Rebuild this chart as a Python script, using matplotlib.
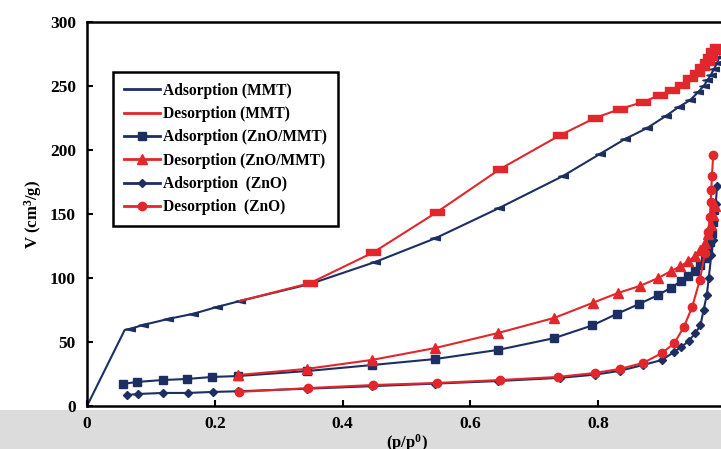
import matplotlib
matplotlib.use("Agg")
import matplotlib.pyplot as plt
from matplotlib.lines import Line2D
from matplotlib.patches import Rectangle

# ---------------- data ----------------
mmt_ads_x = [0, 0.059, 0.067, 0.088, 0.127, 0.166, 0.203, 0.239, 0.349, 0.451, 0.545,
             0.645, 0.745, 0.803, 0.842, 0.876, 0.906, 0.926, 0.944, 0.956, 0.965,
             0.971, 0.976, 0.981, 0.986, 0.990]
mmt_ads_y = [0, 59.4, 60.2, 63.3, 68, 72, 77.3, 82, 95.3, 112.5, 131,
             154.7, 179.7, 197, 208.6, 217, 226.6, 233.6, 239, 245, 250,
             254.5, 258.5, 263, 268, 273]

mmt_des_x = [0.239, 0.349, 0.448, 0.548, 0.646, 0.740, 0.795, 0.834, 0.870, 0.897,
             0.915, 0.931, 0.944, 0.955, 0.963, 0.970, 0.975, 0.980, 0.986]
mmt_des_y = [82, 96, 120, 151.6, 185, 211.5, 225, 232, 237.5, 243,
             247, 251, 256, 260.5, 265, 269, 273, 277, 280.5]

znomm_ads_x = [0.056, 0.078, 0.119, 0.156, 0.196, 0.236, 0.344, 0.446, 0.545, 0.643,
               0.731, 0.791, 0.829, 0.864, 0.894, 0.914, 0.930, 0.941, 0.952, 0.960,
               0.967, 0.972, 0.975, 0.978, 0.980, 0.982]
znomm_ads_y = [17.2, 18.8, 20.3, 21.1, 22.7, 23.4, 27.3, 32, 36.7, 43.8,
               53, 63, 71.9, 79.7, 86.7, 92.5, 97.5, 101.5, 105.5, 110,
               116, 122, 128, 135, 144, 153]

znomm_des_x = [0.236, 0.344, 0.446, 0.545, 0.643, 0.731, 0.792, 0.831, 0.865, 0.894,
               0.914, 0.928, 0.941, 0.951, 0.959, 0.967, 0.972, 0.977, 0.980, 0.983]
znomm_des_y = [24.2, 29, 36, 45.3, 57, 68.8, 80.7, 88.3, 93.8, 100,
               105.5, 109, 113, 117, 122, 127.5, 134, 141.5, 149, 156]

zno_ads_x = [0.063, 0.080, 0.119, 0.158, 0.197, 0.236, 0.344, 0.446, 0.545, 0.643,
             0.740, 0.795, 0.834, 0.870, 0.900, 0.918, 0.930, 0.942, 0.952, 0.960,
             0.965, 0.970, 0.973, 0.977, 0.980, 0.982, 0.984, 0.986]
zno_ads_y = [8.6, 9.4, 10.2, 10.2, 11, 11.5, 13.5, 15.5, 17.5, 19.5,
             22, 24.5, 27.5, 32, 36, 42, 46, 51, 57, 63,
             75, 87, 100, 118, 130, 145, 158, 172]

zno_des_x = [0.238, 0.346, 0.448, 0.548, 0.646, 0.737, 0.795, 0.834, 0.870, 0.900,
             0.919, 0.934, 0.947, 0.959, 0.967, 0.972, 0.975, 0.976, 0.977, 0.978, 0.980]
zno_des_y = [11, 14, 16.4, 18, 20.3, 22.7, 25.8, 29, 33.6, 41.4,
             49, 61.7, 77.3, 98.4, 119.5, 136, 148, 159, 169, 180, 196]

x_ticks = [0, 0.2, 0.4, 0.6, 0.8, 1.0]
x_ticklabels = ["0", "0.2", "0.4", "0.6", "0.8", "1"]
y_ticks = [0, 50, 100, 150, 200, 250, 300]
y_ticklabels = ["0", "50", "100", "150", "200", "250", "300"]

legend_labels = ["Adsorption (MMT)", "Desorption (MMT)", "Adsorption (ZnO/MMT)",
                 "Desorption (ZnO/MMT)", "Adsorption  (ZnO)", "Desorption  (ZnO)"]

# ---------------- styling ----------------
plt.rcParams["font.family"] = ["Liberation Serif", "DejaVu Serif"]
plt.rcParams["font.weight"] = "bold"
plt.rcParams["mathtext.fontset"] = "custom"
plt.rcParams["mathtext.rm"] = "Liberation Serif:bold"
plt.rcParams["mathtext.bf"] = "Liberation Serif:bold"
plt.rcParams["mathtext.it"] = "Liberation Serif:bold"

NAVY = "#1d2f62"
RED = "#e2272c"

rect_marker = [(-1.5, -0.55), (1.5, -0.55), (1.5, 0.55), (-1.5, 0.55), (-1.5, -0.55)]
flag_marker = [(-1.0, 0.0), (1.0, -0.45), (1.0, 0.45), (-1.0, 0.0)]

fig = plt.figure(figsize=(7.21, 4.49), dpi=100)
fig.patches.append(Rectangle((0, 0), 1, 39 / 449, transform=fig.transFigure,
                             facecolor="#dcdcdc", edgecolor="none", zorder=-5))
ax = fig.add_axes([87 / 721, 43 / 449, 639 / 721, 384 / 449])
ax.set_facecolor("white")

lw = 1.5
ax.plot(mmt_ads_x, mmt_ads_y, color=NAVY, lw=lw, marker=flag_marker, ms=7,
        markevery=list(range(2, len(mmt_ads_x))))
ax.plot(znomm_ads_x, znomm_ads_y, color=NAVY, lw=lw, marker="s", ms=6)
ax.plot(zno_ads_x, zno_ads_y, color=NAVY, lw=lw, marker="D", ms=4)
ax.plot(mmt_des_x, mmt_des_y, color=RED, lw=lw, marker=rect_marker, ms=10,
        markevery=list(range(1, len(mmt_des_x))))
ax.plot(znomm_des_x, znomm_des_y, color=RED, lw=lw, marker="^", ms=7)
ax.plot(zno_des_x, zno_des_y, color=RED, lw=lw, marker="o", ms=6)

ax.set_xlim(0, 1.0)
ax.set_ylim(0, 300)
ax.set_xticks(x_ticks)
ax.set_xticklabels(x_ticklabels)
ax.set_yticks(y_ticks)
ax.set_yticklabels(y_ticklabels)
ax.tick_params(direction="in", length=4, width=1.5, labelsize=12.5)
ax.tick_params(axis="y", pad=8)
ax.tick_params(axis="x", pad=7)
for lab in ax.get_xticklabels() + ax.get_yticklabels():
    lab.set_fontweight("bold")
for s in ["left", "top", "bottom", "right"]:
    ax.spines[s].set_linewidth(1.8)
    ax.spines[s].set_color("black")

ax.set_xlabel(r"(p/p$^{0}$)", fontsize=12, fontweight="bold", labelpad=0)
ax.set_ylabel(r"V (cm$^{3}$/g)", fontsize=12, fontweight="bold", labelpad=4)

handles = [
    Line2D([], [], color=NAVY, lw=2),
    Line2D([], [], color=RED, lw=2),
    Line2D([], [], color=NAVY, lw=2, marker="s", ms=6),
    Line2D([], [], color=RED, lw=2, marker="^", ms=7),
    Line2D([], [], color=NAVY, lw=2, marker="D", ms=4),
    Line2D([], [], color=RED, lw=2, marker="o", ms=6),
]
leg = ax.legend(handles, legend_labels, loc="upper left",
                bbox_to_anchor=(0.0407, 0.87), borderaxespad=0,
                prop={"family": "Liberation Serif", "weight": "bold", "size": 11.2},
                fancybox=False, framealpha=1, edgecolor="black",
                handlelength=2.3, handletextpad=0.2, labelspacing=0.47,
                borderpad=0.7)
leg.get_frame().set_linewidth(1.8)

fig.savefig("out.png", dpi=100)
